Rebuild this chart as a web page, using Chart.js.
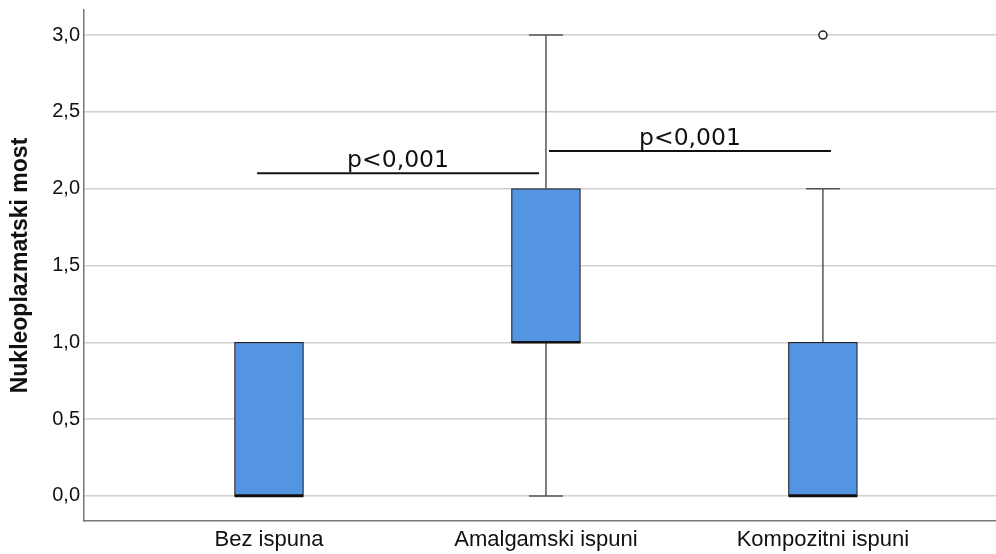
<!DOCTYPE html>
<html lang="hr">
<head>
    <meta charset="UTF-8">
    <title>Nukleoplazmatski most</title>
    <script src="https://cdn.jsdelivr.net/npm/chart.js"></script>
    <style>
        body { margin: 0; background: #fff; }
        #wrap { width: 996px; height: 554px; }
    </style>
</head>
<body>
    <div id="wrap"><canvas id="boxChart" width="996" height="554"></canvas></div>

    <script>
        // box plot data
        const categories = ['Bez ispuna', 'Amalgamski ispuni', 'Kompozitni ispuni'];
        const q1 = [0, 1, 0];
        const median = [0, 1, 0];
        const q3 = [1, 2, 1];
        const whiskerLow = [0, 0, 0];
        const whiskerHigh = [1, 3, 2];
        const outliers = [{ x: 3, y: 3 }];
        const yTicks = [0, 0.5, 1, 1.5, 2, 2.5, 3];

        // significance brackets (x in category units)
        const sigFrom = [0.957, 2.011];
        const sigTo = [1.975, 3.029];
        const sigY = [2.1, 2.245];
        const sigLabels = ['p<0,001', 'p<0,001'];

        const boxExtras = {
            id: 'boxExtras',
            afterDatasetsDraw(chart) {
                const ctx = chart.ctx;
                const xs = chart.scales.x, ys = chart.scales.y;
                const half = 34.5, cap = 17;
                ctx.save();
                // whiskers
                ctx.strokeStyle = '#555';
                ctx.lineWidth = 1.5;
                categories.forEach((c, i) => {
                    const x = xs.getPixelForValue(i + 1);
                    const segs = [[whiskerLow[i], q1[i]], [q3[i], whiskerHigh[i]]];
                    segs.forEach(([a, b]) => {
                        if (a === b) return;
                        ctx.beginPath();
                        ctx.moveTo(x, ys.getPixelForValue(a));
                        ctx.lineTo(x, ys.getPixelForValue(b));
                        ctx.stroke();
                    });
                    [whiskerLow[i], whiskerHigh[i]].forEach((v, k) => {
                        if (v === (k === 0 ? q1[i] : q3[i])) return;
                        const y = ys.getPixelForValue(v);
                        ctx.beginPath();
                        ctx.moveTo(x - cap, y);
                        ctx.lineTo(x + cap, y);
                        ctx.stroke();
                    });
                    // median
                    ctx.save();
                    ctx.strokeStyle = '#111';
                    ctx.lineWidth = 2.5;
                    const my = ys.getPixelForValue(median[i]);
                    ctx.beginPath();
                    ctx.moveTo(x - half, my);
                    ctx.lineTo(x + half, my);
                    ctx.stroke();
                    ctx.restore();
                });
                // significance lines
                ctx.strokeStyle = '#111';
                ctx.lineWidth = 2;
                ctx.fillStyle = '#111';
                ctx.font = '23.5px "DejaVu Sans"';
                ctx.textAlign = 'center';
                ctx.textBaseline = 'alphabetic';
                sigLabels.forEach((lab, i) => {
                    const x1 = xs.getPixelForValue(sigFrom[i]);
                    const x2 = xs.getPixelForValue(sigTo[i]);
                    const y = ys.getPixelForValue(sigY[i]);
                    ctx.beginPath();
                    ctx.moveTo(x1, y);
                    ctx.lineTo(x2, y);
                    ctx.stroke();
                    ctx.fillText(lab, (x1 + x2) / 2, y - 6);
                });
                ctx.restore();
            }
        };

        new Chart(document.getElementById('boxChart'), {
            data: {
                datasets: [{
                    type: 'bar',
                    data: categories.map((c, i) => ({ x: i + 1, y: [q1[i], q3[i]] })),
                    backgroundColor: '#5495e3',
                    borderColor: '#222',
                    borderWidth: 1.2,
                    borderSkipped: false,
                    barThickness: 69
                }, {
                    type: 'scatter',
                    data: outliers,
                    pointStyle: 'circle',
                    pointRadius: 4,
                    pointBorderWidth: 1.5,
                    pointBorderColor: '#222',
                    pointBackgroundColor: '#fff'
                }]
            },
            options: {
                responsive: false,
                animation: false,
                layout: { autoPadding: false, padding: { top: 10, right: 0, left: 7, bottom: 0 } },
                plugins: { legend: { display: false }, tooltip: { enabled: false } },
                scales: {
                    x: {
                        type: 'linear',
                        offset: false,
                        min: 0.332,
                        max: 3.625,
                        afterBuildTicks: s => { s.ticks = categories.map((c, i) => ({ value: i + 1 })); },
                        afterFit: s => { s.height = 33; s.paddingLeft = 0; s.paddingRight = 0; },
                        grid: { display: false, drawTicks: false },
                        border: { color: '#777', width: 1.5 },
                        ticks: {
                            color: '#111',
                            font: { family: 'Liberation Sans', size: 22 },
                            padding: 6,
                            maxRotation: 0,
                            autoSkip: false,
                            callback: v => categories[v - 1]
                        }
                    },
                    y: {
                        min: -0.163,
                        max: 3.163,
                        afterBuildTicks: s => { s.ticks = yTicks.map(v => ({ value: v })); },
                        afterFit: s => { s.width = 77; s.paddingTop = 0; s.paddingBottom = 0; },
                        grid: { color: '#d0d0d0', lineWidth: 1.5, drawTicks: false },
                        border: { color: '#777', width: 1.5 },
                        ticks: {
                            color: '#111',
                            font: { family: 'Liberation Sans', size: 20 },
                            padding: 4,
                            callback: v => v.toFixed(1).replace('.', ',')
                        },
                        title: {
                            display: true,
                            text: 'Nukleoplazmatski most',
                            color: '#111',
                            font: { family: 'Liberation Sans', size: 23, weight: 'bold' },
                            padding: 0
                        }
                    }
                }
            },
            plugins: [boxExtras]
        });
    </script>
</body>
</html>
